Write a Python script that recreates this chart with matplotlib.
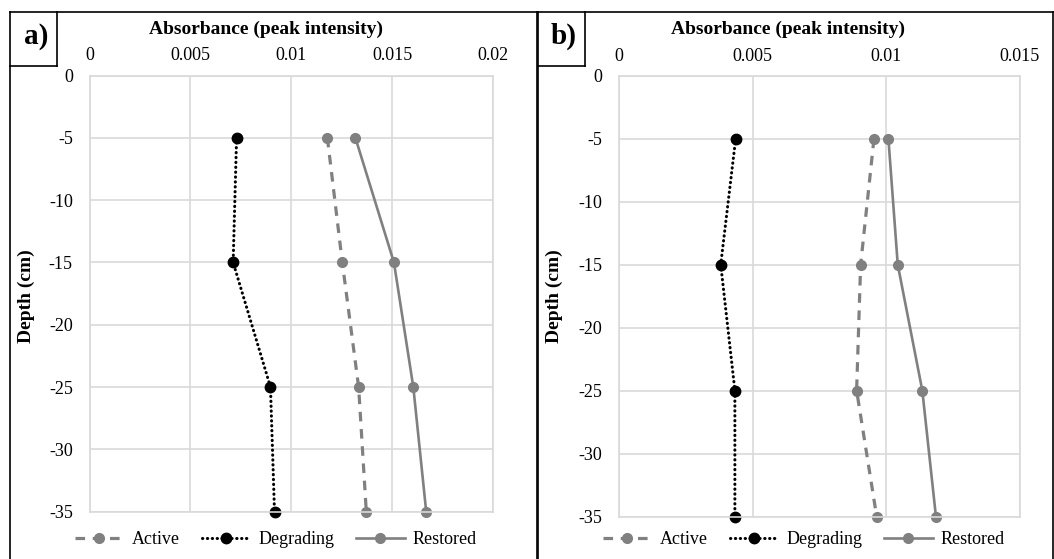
import matplotlib
matplotlib.use('Agg')
import matplotlib.pyplot as plt
from matplotlib.lines import Line2D

plt.rcParams['font.family'] = ['Liberation Serif', 'DejaVu Serif']

depth = [-5, -15, -25, -35]
active_a = [0.01179, 0.01253, 0.01334, 0.01372]
degrading_a = [0.00729, 0.00712, 0.00897, 0.00917]
restored_a = [0.01318, 0.01509, 0.01605, 0.01669]
active_b = [0.00955, 0.00905, 0.00890, 0.00965]
degrading_b = [0.00437, 0.00381, 0.00434, 0.00434]
restored_b = [0.01009, 0.01044, 0.01136, 0.01187]
xticks_a = [0, 0.005, 0.01, 0.015, 0.02]
xticks_b = [0, 0.005, 0.01, 0.015]
xlabels_a = ['0', '0.005', '0.01', '0.015', '0.02']
xlabels_b = ['0', '0.005', '0.01', '0.015']
yticks = [0, -5, -10, -15, -20, -25, -30, -35]

W, H = 1054, 559
fig = plt.figure(figsize=(W / 100, H / 100), dpi=100)

grey = '#808080'
grid = '#d9d9d9'


def fx(px):
    return px / W


def fy(py):
    return 1 - py / H


def panel(rect, act, deg, res, xt, xl, label, box, title_x, depth_x, leg_x):
    ax = fig.add_axes(rect)
    ax.plot(act, depth, color=grey, lw=2.3, ls=(0, (3.0, 2.4)), marker='o', ms=7, label='Active')
    ax.plot(deg, depth, color='black', lw=2.2, ls=(0, (0.1, 1.5)), dash_capstyle='round',
            marker='o', ms=7.5, label='Degrading')
    ax.plot(res, depth, color=grey, lw=1.9, marker='o', ms=7, label='Restored')
    ax.set_xlim(xt[0], xt[-1])
    ax.set_ylim(-35, 0)
    ax.set_xticks(xt)
    ax.set_xticklabels(xl)
    ax.set_yticks(yticks)
    ax.set_yticklabels([str(v) for v in yticks])
    ax.xaxis.tick_top()
    ax.tick_params(length=0, labelsize=13, pad=8)
    ax.tick_params(axis='y', pad=12)
    ax.grid(True, color=grid, lw=1.2)
    ax.set_axisbelow(True)
    for s in ax.spines.values():
        s.set_color(grid)
        s.set_linewidth(1.2)
    for line in ax.lines:
        line.set_clip_on(False)
    fig.text(fx(title_x), fy(29), 'Absorbance (peak intensity)', ha='center', va='center',
             fontsize=14, fontweight='bold')
    fig.text(fx(depth_x), fy(296), 'Depth (cm)', ha='center', va='center', rotation=90,
             fontsize=14, fontweight='bold')
    ax.legend(loc='center', bbox_to_anchor=(fx(leg_x), fy(540)), bbox_transform=fig.transFigure,
              ncol=3, frameon=False, fontsize=13, handlelength=2.7, handletextpad=0.45,
              columnspacing=1.2, borderpad=0)
    # outer panel frame and label box
    x0, x1 = box
    for xs, ys in [([x0, x0], [12, H + 5]), ([x1, x1], [12, H + 5]), ([x0, x1], [12, 12]),
                   ([x0, x0 + 47], [66, 66]), ([x0 + 47, x0 + 47], [12, 66])]:
        fig.add_artist(Line2D([fx(v) for v in xs], [fy(v) for v in ys], color='black', lw=1.2,
                              transform=fig.transFigure))
    fig.text(fx(x0 + 26.5), fy(36), label, ha='center', va='center', fontsize=21, fontweight='bold')
    return ax


panel([fx(89.5), fy(511.7), fx(493) - fx(89.5), fy(75.5) - fy(511.7)],
      active_a, degrading_a, restored_a, xticks_a, xlabels_a, 'a)', (9.5, 537),
      266, 26, 276)
panel([fx(619), fy(516.5), fx(1019.5) - fx(619), fy(75.7) - fy(516.5)],
      active_b, degrading_b, restored_b, xticks_b, xlabels_b, 'b)', (537.5, 1052.5),
      788, 554, 804)

fig.savefig('out.png', dpi=100)
